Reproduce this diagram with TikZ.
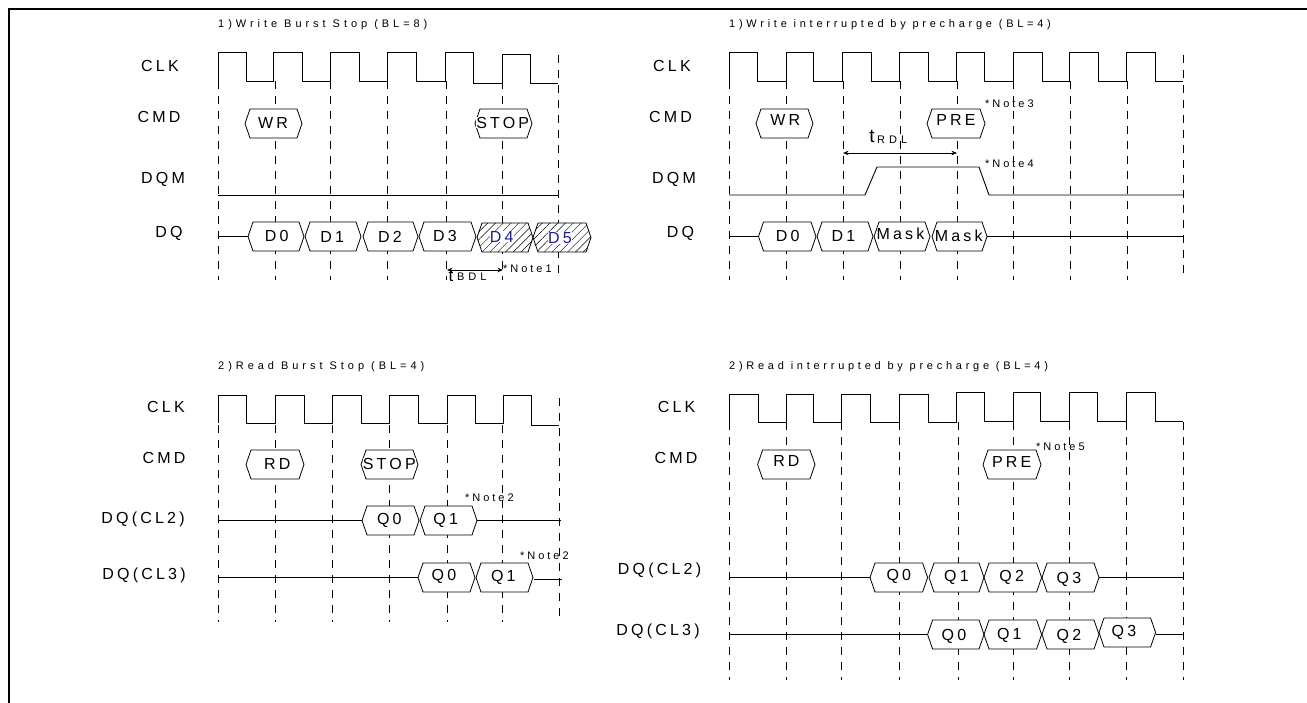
\documentclass[tikz,border=0pt]{standalone}
\usepackage{fontspec}
\setmainfont{Liberation Sans}
\usetikzlibrary{patterns.meta,arrows.meta}
\newfontfamily\widefont[LetterSpace=20]{Liberation Sans}
\newfontfamily\titlefont[LetterSpace=36]{Liberation Sans}
\newfontfamily\longfont[LetterSpace=34]{Liberation Sans}
\newfontfamily\notefont[LetterSpace=27]{Liberation Sans}
\definecolor{dblue}{RGB}{30,30,140}

\tikzset{
  wave/.style={line width=0.9pt,line join=miter},
  tick/.style={line width=0.8pt,dash pattern=on 8pt off 7pt},
  sigbox/.style={line width=0.8pt,preaction={fill=white}},
  hatched/.style={pattern={Lines[angle=45,distance=5.5pt,line width=0.45pt]}},
  sigline/.style={line width=0.9pt},
  sigtxt/.style={inner sep=0pt,text height=11.5pt,text depth=0pt,fill=white,
    font=\fontsize{16}{18}\selectfont\widefont},
  sidelab/.style={inner sep=0pt,text height=11.5pt,text depth=0pt,
    font=\fontsize{16}{18}\selectfont\widefont},
  titlelab/.style={anchor=west,inner sep=0pt,
    font=\fontsize{11}{13}\selectfont\titlefont},
  longlab/.style={anchor=west,inner sep=0pt,
    font=\fontsize{11}{13}\selectfont\longfont},
  notelab/.style={anchor=west,inner sep=0pt,
    font=\fontsize{11}{13}\selectfont\notefont},
  dim/.style={{Stealth[length=5.5pt,width=4.5pt]}-{Stealth[length=5.5pt,width=4.5pt]},line width=0.8pt}
}

% one data or command slot: name, left, right, middle y, text position, text
\newcommand{\hexbox}[7][]{
  \coordinate (#2-w) at (#3,#5);
  \coordinate (#2-e) at (#4,#5);
  \draw[sigbox,#1] (#3,#5) -- ++(5,-14.5) -- (#4-5,#5-14.5) -- (#4,#5)
     -- (#4-5,#5+14.5) -- (#3+5,#5+14.5) -- cycle;
  \node[sigtxt] (#2) at (#6) {#7};
}

\begin{document}
\begin{tikzpicture}[x=1pt,y=-1pt]
\useasboundingbox (0,0) rectangle (1307,703);

\coordinate (frameA) at (9,703);
\coordinate (frameB) at (9,9);
\coordinate (frameC) at (1307,9);
\draw[line width=1.8pt] (frameA) -- (frameB) -- (frameC);

\node[titlelab] (titleA) at (218,25) {1)Write Burst Stop (BL=8)};
\node[longlab] (titleB) at (729,25) {1)Write interrupted by precharge (BL=4)};
\node[titlelab] (titleC) at (218,367) {2)Read Burst Stop (BL=4)};
\node[longlab] (titleD) at (729,367) {2)Read interrupted by precharge (BL=4)};

\foreach \x in {218,275,330,387,446,502} \draw[tick] (\x,81) -- (\x,280);
\draw[tick] (558,55) -- (558,277);
\foreach \x in {729,786,843,900,957,1013,1070,1127} \draw[tick] (\x,81) -- (\x,280);
\draw[tick] (1183,55) -- (1183,277);
\foreach \x in {218,275,332,389,447,502} \draw[tick] (\x,425) -- (\x,622);
\draw[tick] (559,398) -- (559,618);
\foreach \x in {729,786,841,899,958,1013,1069,1126,1183} \draw[tick] (\x,422) -- (\x,680);

\draw[wave] (218,81) -- (218,52) -- (246,52) -- (246,81) -- (273,81) -- (273,52)
  -- (302,52) -- (302,81) -- (330,81) -- (330,52) -- (359,52) -- (359,81)
  -- (387,81) -- (387,52) -- (416,52) -- (416,81) -- (445,81) -- (445,52)
  -- (473,52) -- (473,83) -- (502,83) -- (502,54) -- (530,54) -- (530,83) -- (558,83);
\draw[wave] (729,81) -- (729,52) -- (757,52) -- (757,81) -- (786,81) -- (786,52)
  -- (813,52) -- (813,81) -- (842,81) -- (842,52) -- (871,52) -- (871,81)
  -- (899,81) -- (899,52) -- (928,52) -- (928,81) -- (956,81) -- (956,52)
  -- (984,52) -- (984,81) -- (1013,81) -- (1013,52) -- (1042,52) -- (1042,81)
  -- (1069,81) -- (1069,52) -- (1098,52) -- (1098,81) -- (1126,81) -- (1126,52)
  -- (1155,52) -- (1155,81) -- (1183,81);
\draw[wave] (218,423) -- (218,395) -- (246,395) -- (246,423) -- (275,423) -- (275,395)
  -- (304,395) -- (304,423) -- (332,423) -- (332,395) -- (361,395) -- (361,423)
  -- (389,423) -- (389,395) -- (418,395) -- (418,423) -- (447,423) -- (447,395)
  -- (475,395) -- (475,423) -- (503,423) -- (503,395) -- (531,395) -- (531,425) -- (559,425);
\draw[wave] (729,422) -- (729,394) -- (758,394) -- (758,422) -- (786,422) -- (786,394)
  -- (813,394) -- (813,422) -- (841,422) -- (841,394) -- (870,394) -- (870,422)
  -- (899,422) -- (899,394) -- (928,394) -- (928,422) -- (956,422) -- (956,392)
  -- (984,392) -- (984,421) -- (1013,421) -- (1013,392) -- (1040,392) -- (1040,421)
  -- (1069,421) -- (1069,392) -- (1097,392) -- (1097,421) -- (1126,421) -- (1126,392)
  -- (1155,392) -- (1155,421) -- (1183,421);

\node[sidelab] (clkA) at (160,66) {CLK};
\node[sidelab] (cmdA) at (159,117) {CMD};
\node[sidelab] (dqmA) at (163,178) {DQM};
\node[sidelab] (dqA) at (169,232) {DQ};
\node[sidelab] (clkB) at (672,66) {CLK};
\node[sidelab] (cmdB) at (670.5,117) {CMD};
\node[sidelab] (dqmB) at (674,178) {DQM};
\node[sidelab] (dqB) at (680.5,232) {DQ};
\node[sidelab] (clkC) at (166,407) {CLK};
\node[sidelab] (cmdC) at (164,458) {CMD};
\node[sidelab] (clTwoC) at (143,518) {DQ(CL2)};
\node[sidelab] (clThreeC) at (144,574) {DQ(CL3)};
\node[sidelab] (clkD) at (676.6,407) {CLK};
\node[sidelab] (cmdD) at (676,458) {CMD};
\node[sidelab] (clTwoD) at (659.5,569) {DQ(CL2)};
\node[sidelab] (clThreeD) at (658,630) {DQ(CL3)};

\hexbox{wrA}{245}{302}{123.5}{273,122.7}{WR}
\hexbox{stopA}{475}{532}{123.5}{502.7,122.3}{STOP}
\hexbox{dA0}{248}{304}{236.5}{276.7,235.3}{D0}
\hexbox{dA1}{305}{361}{236.5}{332.3,236.3}{D1}
\hexbox{dA2}{363}{418}{236.5}{390,236.3}{D2}
\hexbox{dA3}{419}{476}{236.5}{445,235.7}{D3}
\hexbox[hatched]{dA4}{477}{533}{237.5}{501.7,236.7}{\textcolor{dblue}{D4}}
\hexbox[hatched]{dA5}{533}{591}{237.5}{560,238}{\textcolor{dblue}{D5}}

\hexbox{wrB}{756}{813}{123.5}{785.3,120}{WR}
\hexbox{preB}{927}{985}{123.5}{956,120}{PRE}
\hexbox{dB0}{758.5}{816}{236.5}{787.6,235.7}{D0}
\hexbox{dB1}{817}{873}{236.5}{843.5,235.7}{D1}
\hexbox{dB2}{874}{930}{236.5}{900.5,233.3}{Mask}
\hexbox{dB3}{932}{987}{236.5}{958.7,235.7}{Mask}

\hexbox{rdC}{246}{304}{464.5}{277.3,464}{RD}
\hexbox{stopC}{361}{418}{464.5}{389.3,464}{STOP}
\hexbox{qC0}{362}{419}{520.5}{389.3,518.3}{Q0}
\hexbox{qC1}{420}{477}{520.5}{445.7,518.3}{Q1}
\hexbox{qC2}{418}{475}{577.5}{444,575}{Q0}
\hexbox{qC3}{476}{533}{577.5}{503.3,575.7}{Q1}

\hexbox{rdD}{757.6}{815}{464.5}{786.4,460.3}{RD}
\hexbox{preD}{983}{1041}{464.5}{1011.7,461.3}{PRE}
\hexbox{qD0}{870}{927.6}{577.5}{898.8,574.7}{Q0}
\hexbox{qD1}{929}{984}{577.5}{956.4,576}{Q1}
\hexbox{qD2}{984}{1041.6}{577.5}{1011.7,575.7}{Q2}
\hexbox{qD3}{1042}{1099}{577.5}{1068.9,577.7}{Q3}
\hexbox{qD4}{927.6}{984}{634.5}{954,634.7}{Q0}
\hexbox{qD5}{984}{1041.6}{634.5}{1009.3,633.3}{Q1}
\hexbox{qD6}{1042}{1099}{634.5}{1068.9,634.7}{Q2}
\hexbox{qD7}{1099}{1155.6}{632.5}{1124,631}{Q3}

\coordinate (dqmAl) at (218,195);
\coordinate (dqmAr) at (558,195);
\draw[sigline] (dqmAl) -- (dqmAr);
\coordinate (dqAl) at (219,236.5);
\draw[sigline] (dqAl) -- (dA0-w);

\coordinate (dqmBa) at (729,195);
\coordinate (dqmBb) at (865,195);
\coordinate (dqmBc) at (877,167);
\coordinate (dqmBd) at (979,167);
\coordinate (dqmBe) at (989,195);
\coordinate (dqmBf) at (1183,195);
\draw[sigline] (dqmBa) -- (dqmBb) -- (dqmBc) -- (dqmBd) -- (dqmBe) -- (dqmBf);
\coordinate (dqBl) at (729,236.5);
\coordinate (dqBr) at (1183,236.5);
\draw[sigline] (dqBl) -- (dB0-w);
\draw[sigline] (dB3-e) -- (dqBr);

\coordinate (clTwoCl) at (219,520.5);
\coordinate (clTwoCr) at (561,520.5);
\draw[sigline] (clTwoCl) -- (qC0-w);
\draw[sigline] (qC1-e) -- (clTwoCr);
\coordinate (clThreeCl) at (219,577.5);
\coordinate (clThreeCr) at (562,579.5);
\coordinate (clThreeCm) at (534,579.5);
\draw[sigline] (clThreeCl) -- (qC2-w);
\draw[sigline] (clThreeCm) -- (clThreeCr);

\coordinate (clTwoDl) at (729,577.5);
\coordinate (clTwoDr) at (1183,577.5);
\draw[sigline] (clTwoDl) -- (qD0-w);
\draw[sigline] (qD3-e) -- (clTwoDr);
\coordinate (clThreeDl) at (729,634.5);
\coordinate (clThreeDr) at (1183,634.5);
\coordinate (clThreeDm) at (1155.6,634.5);
\draw[sigline] (clThreeDl) -- (qD4-w);
\draw[sigline] (clThreeDm) -- (clThreeDr);

\coordinate (bdlL) at (447,270);
\coordinate (bdlR) at (503,270);
\draw[dim] (bdlL) -- (bdlR);
\node[sidelab,font=\fontsize{17}{18}\selectfont\widefont] (bdlT) at (451,276) {t};
\node[titlelab] (bdlS) at (457,277) {BDL};
\node[notelab] (noteA) at (503,269) {*Note1};

\coordinate (rdlL) at (843,153);
\coordinate (rdlR) at (957,153);
\draw[dim] (rdlL) -- (rdlR);
\node[sidelab,font=\fontsize{19}{20}\selectfont\widefont] (rdlT) at (872,137) {t};
\node[titlelab] (rdlS) at (877,140) {RDL};
\node[notelab] (noteB) at (985,104) {*Note3};
\node[notelab] (noteC) at (985,164) {*Note4};
\node[notelab] (noteD) at (465,498) {*Note2};
\node[notelab] (noteE) at (520,556) {*Note2};
\node[notelab] (noteF) at (1036,447) {*Note5};
\end{tikzpicture}
\end{document}
